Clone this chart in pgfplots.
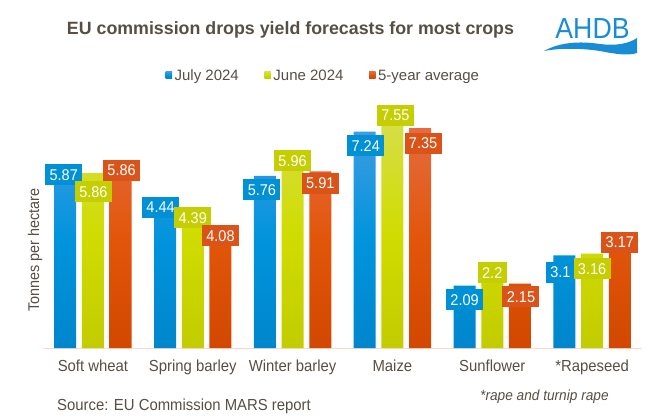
\documentclass[border=0pt]{standalone}
\usepackage{pgfplots}
\pgfplotsset{compat=1.18}
\usepackage{pgfplotstable}
\usepackage{fontspec}
\setmainfont{Liberation Sans}[FakeStretch=0.93]
\newfontfamily\logofont{Liberation Sans}[FakeStretch=0.92]
\newfontfamily\legfont{Liberation Sans}
\newfontfamily\titfont{Liberation Sans}

\definecolor{textc}{RGB}{87,78,68}
\definecolor{axisc}{RGB}{250,218,198}
\definecolor{bT}{RGB}{62,156,226}\definecolor{bM}{RGB}{0,148,220}\definecolor{bB}{RGB}{0,134,204}
\definecolor{gT}{RGB}{214,222,72}\definecolor{gM}{RGB}{208,220,0}\definecolor{gB}{RGB}{194,204,0}
\definecolor{oT}{RGB}{228,108,64}\definecolor{oM}{RGB}{226,86,10}\definecolor{oB}{RGB}{210,72,0}
\definecolor{bL}{RGB}{0,144,214}\definecolor{gL}{RGB}{196,206,0}\definecolor{oL}{RGB}{218,84,26}
\definecolor{logoc}{RGB}{24,140,212}

% x = category index, y = value, dx/dy = label offset (bp)
\pgfplotstableread{
x y dx dy lab
0 5.87 -1.5 -2 5.87
1 4.44 -4.5 8 4.44
2 5.76 -3 -14 5.76
3 7.24 1 -14 7.24
4 2.09 0 -14 2.09
5 3.1 -4 -17 3.1
}\julytab
\pgfplotstableread{
x y dx dy lab
0 5.86 0.5 -19 5.86
1 4.39 0 -1 4.39
2 5.96 0 9 5.96
3 7.55 3 7 7.55
4 2.2 0 9.5 2.2
5 3.16 0 -15 3.16
}\junetab
\pgfplotstableread{
x y dx dy lab
0 5.86 1 2.5 5.86
1 4.08 0 -9.5 4.08
2 5.91 0 -12 5.91
3 7.35 3 -15 7.35
4 2.15 1 -13 2.15
5 3.17 0 11 3.17
}\avgtab

\begin{document}
\begin{tikzpicture}[x=1bp,y=1bp]
\path[use as bounding box] (0,0) rectangle (666,417);
\begin{axis}[
  at={(43bp,69bp)}, anchor=south west,
  scale only axis, width=599bp, height=254.15bp,
  xmin=-0.5, xmax=5.5, ymin=0, ymax=8.5,
  enlargelimits=false, clip=false,
  axis x line*=bottom, hide y axis,
  axis line style={draw=axisc, line width=1bp},
  xtick={0,1,2,3,4,5},
  xticklabels={Soft wheat, Spring barley, Winter barley, Maize, Sunflower, *Rapeseed},
  major tick length=0pt,
  xticklabel style={anchor=base, yshift=-23bp, text=textc, font=\fontsize{16bp}{18bp}\selectfont},
  ybar=5.7bp, bar width=22bp,
  point meta=explicit symbolic,
  nodes near coords,
  visualization depends on={\thisrow{dx}\as\dx},
  visualization depends on={\thisrow{dy}\as\dy},
  every node near coord/.append style={anchor=center, xshift=\dx, yshift=\dy, text=white,
     font=\fontsize{15.6bp}{18bp}\selectfont, inner xsep=4.4bp, inner ysep=4.9bp,
     text height=11.2bp, text depth=0bp},
  legend style={at={(0.4683,1.0702)}, anchor=center, draw=none, fill=none,
     legend columns=-1, font=\legfont\fontsize{15bp}{17bp}\selectfont, text=textc,
     nodes={inner xsep=2.5bp, inner ysep=1bp},
     /tikz/every even column/.append style={column sep=23bp}},
]
\addplot[draw=none, top color=bT, bottom color=bB, middle color=bM,
  every node near coord/.append style={fill=bL},
  legend image code/.code={\fill[bL] (0bp,-2.2bp) rectangle (6.6bp,4.4bp);}]
  table[x=x, y=y, meta=lab] {\julytab};
\addlegendentry{July 2024}
\addplot[draw=none, top color=gT, bottom color=gB, middle color=gM,
  every node near coord/.append style={fill=gL},
  legend image code/.code={\fill[gL] (0bp,-2.2bp) rectangle (6.6bp,4.4bp);}]
  table[x=x, y=y, meta=lab] {\junetab};
\addlegendentry{June 2024}
\addplot[draw=none, top color=oT, bottom color=oB, middle color=oM,
  every node near coord/.append style={fill=oL},
  legend image code/.code={\fill[oL] (0bp,-2.2bp) rectangle (6.6bp,4.4bp);}]
  table[x=x, y=y, meta=lab] {\avgtab};
\addlegendentry{5-year average}
\end{axis}

% title
\node[anchor=base, inner sep=0, text=textc, font=\titfont\fontsize{17.8bp}{20bp}\selectfont\bfseries] at (290.5,383)
  {EU commission drops yield forecasts for most crops};
% y label
\node[rotate=90, text=textc, font=\fontsize{15.5bp}{18bp}\selectfont] at (35,167) {Tonnes per hectare};
% source
\node[anchor=base west, inner sep=0, text=textc, font=\fontsize{16bp}{18bp}\selectfont] at (57,6.5)
  {Source: EU Commission MARS report};
% note
\node[anchor=base west, inner sep=0, text=textc, font=\fontsize{14.7bp}{17bp}\selectfont\itshape] at (480,17)
  {*rape and turnip rape};
% logo
\node[anchor=base, inner sep=0, text=logoc, font=\logofont\fontsize{29bp}{32bp}\selectfont] at (592.5,379) {AHDB};
\fill[logoc] (544,366) .. controls (560,375) and (580,376) .. (600,373)
  .. controls (615,371) and (628,373) .. (637,379)
  -- (637,364) .. controls (628,361) and (615,363) .. (600,366)
  .. controls (580,369) and (560,369) .. (544,366) -- cycle;
\end{tikzpicture}
\end{document}
